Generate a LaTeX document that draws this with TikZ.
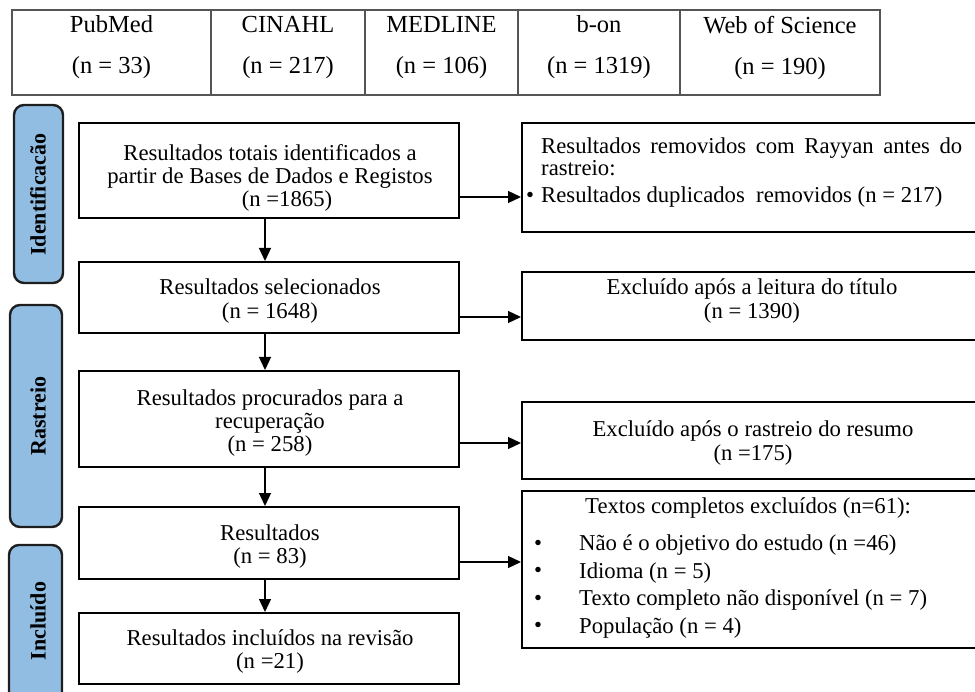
\documentclass[tikz,border=0pt]{standalone}
\usepackage{fontspec}
\setmainfont{Liberation Serif}
\usetikzlibrary{arrows.meta}
\definecolor{phaseblue}{HTML}{92BDE3}
\definecolor{phaseedge}{HTML}{1E1E1E}
\definecolor{tblline}{HTML}{555555}
\begin{document}
\begin{tikzpicture}[x=1pt,y=-1pt,
  cell/.style={draw=tblline, line width=1.1pt, inner sep=0pt, minimum height=85pt},
  celltext/.style={inner sep=0pt, align=center, font=\fontsize{24.5}{41}\selectfont},
  box/.style={draw, line width=2pt, inner sep=0pt},
  ftext/.style={inner sep=0pt, align=center, font=\fontsize{22.7}{23.4}\selectfont},
  ltext/.style={inner sep=0pt, anchor=west, text height=16pt, text depth=5pt, font=\fontsize{22.7}{23.4}\selectfont},
  phase/.style={draw=phaseedge, fill=phaseblue, line width=2.4pt, rounded corners=10pt, inner sep=0pt},
  phasetext/.style={inner sep=0pt, rotate=90, font=\fontsize{22}{24}\selectfont\bfseries},
  arr/.style={line width=1.3pt, -{Triangle[length=13pt,width=12pt]}}
]
\useasboundingbox (0,0) rectangle (975,692);
\clip (0,0) rectangle (975,692);

% source table
\node[cell, minimum width=199pt] (c1) at (111.5,52.5) {};
\node[cell, minimum width=154pt] (c2) at (288,52.5) {};
\node[cell, minimum width=153pt] (c3) at (441.5,52.5) {};
\node[cell, minimum width=162pt] (c4) at (599,52.5) {};
\node[cell, minimum width=200pt] (c5) at (780,52.5) {};
\node[celltext] (t1) at (c1 |- 0,47.5) {PubMed\\(n = 33)};
\node[celltext] (t2) at (c2 |- 0,47.5) {CINAHL\\(n = 217)};
\node[celltext] (t3) at (c3 |- 0,47.5) {MEDLINE\\(n = 106)};
\node[celltext] (t4) at (c4 |- 0,47.5) {b-on\\(n = 1319)};
\node[celltext] (t5) at (c5 |- 0,47.5) {Web of Science\\(n = 190)};

% phase labels
\node[phase, minimum width=49pt, minimum height=178pt] (p1) at (38.5,194) {};
\node[phasetext] (p1t) at (38,194.5) {Identificacão};
\node[phase, minimum width=52pt, minimum height=222pt] (p2) at (36,416) {};
\node[phasetext] (p2t) at (38,416) {Rastreio};
\node[phase, minimum width=53pt, minimum height=160pt] (p3) at (35.5,625) {};
\node[phasetext] (p3t) at (38,621) {Incluído};

% left column
\node[box, minimum width=380pt, minimum height=95pt] (b1) at (269,170.5) {};
\node[ftext] (b1t) at (270,178) {Resultados totais identificados a\\partir de Bases de Dados e Registos\\\hspace*{34pt}(n =1865)};
\node[box, minimum width=380pt, minimum height=71pt] (b2) at (269,297.5) {};
\node[ftext] (b2t) at (270,301) {Resultados selecionados\\(n = 1648)};
\node[box, minimum width=380pt, minimum height=96pt] (b3) at (269,419) {};
\node[ftext] (b3t) at (270,423) {Resultados procurados para a\\recuperação\\(n = 258)};
\node[box, minimum width=380pt, minimum height=72pt] (b4) at (269,543) {};
\node[ftext] (b4t) at (270,546.5) {Resultados\\(n = 83)};
\node[box, minimum width=380pt, minimum height=71pt] (b5) at (269,648.5) {};
\node[ftext] (b5t) at (270,651.5) {Resultados incluídos na revisão\\(n =21)};

% right column
\node[box, minimum width=468pt, minimum height=109pt] (r1) at (756,177.5) {};
\node[ltext] (r1a) at (541,148) {\hbox to 421pt{Resultados\hfill removidos\hfill com\hfill Rayyan\hfill antes\hfill do}};
\node[ltext] (r1b) at (541,170) {rastreio:};
\node[ftext] (r1d) at (530,197) {\textbullet};
\node[ltext] (r1c) at (541,197) {Resultados duplicados\ \ removidos (n = 217)};
\node[box, minimum width=468pt, minimum height=68pt] (r2) at (756,306) {};
\node[ftext] (r2t) at (752,301) {Excluído após a leitura do título\\(n = 1390)};
\node[box, minimum width=468pt, minimum height=77pt] (r3) at (756,440.5) {};
\node[ftext] (r3t) at (753,443) {Excluído após o rastreio do resumo\\(n =175)};
\node[box, minimum width=468pt, minimum height=157pt] (r4) at (756,569.5) {};
\node[ltext] (r4h) at (585,508) {Textos completos excluídos (n=61):};
\node[ftext] (r4b1) at (538,545) {\textbullet};
\node[ftext] (r4b2) at (538,572.5) {\textbullet};
\node[ftext] (r4b3) at (538,600) {\textbullet};
\node[ftext] (r4b4) at (538,627.5) {\textbullet};
\node[ltext] (r4i1) at (579,545) {Não é o objetivo do estudo (n =46)};
\node[ltext] (r4i2) at (579,572.5) {Idioma (n = 5)};
\node[ltext] (r4i3) at (579,600) {Texto completo não disponível (n = 7)};
\node[ltext] (r4i4) at (579,627.5) {População (n = 4)};

% connectors
\coordinate (vx) at (265,0);
\draw[arr] (vx |- b1.south) -- (vx |- b2.north);
\draw[arr] (vx |- b2.south) -- (vx |- b3.north);
\draw[arr] (vx |- b3.south) -- (vx |- b4.north);
\draw[arr] (vx |- b4.south) -- (vx |- b5.north);
\coordinate (h1) at (0,197);
\coordinate (h2) at (0,317);
\coordinate (h3) at (0,443);
\coordinate (h4) at (0,562);
\draw[arr] (b1.east |- h1) -- (r1.west |- h1);
\draw[arr] (b2.east |- h2) -- (r2.west |- h2);
\draw[arr] (b3.east |- h3) -- (r3.west |- h3);
\draw[arr] (b4.east |- h4) -- (r4.west |- h4);
\end{tikzpicture}
\end{document}
